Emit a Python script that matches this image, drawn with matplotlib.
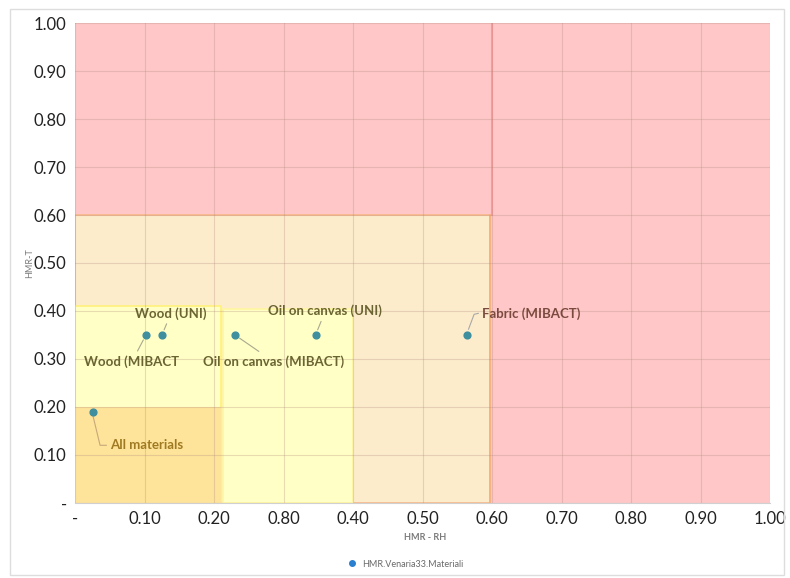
import numpy as np
import matplotlib.pyplot as plt
from matplotlib.patches import Rectangle
from matplotlib.lines import Line2D

# data
labels = ['All materials', 'Wood (MIBACT', 'Wood (UNI)', 'Oil on canvas (MIBACT)',
          'Oil on canvas (UNI)', 'Fabric (MIBACT)']
hmr_rh = [0.026, 0.102, 0.125, 0.230, 0.346, 0.564]
hmr_t = [0.19, 0.35, 0.35, 0.35, 0.35, 0.35]
label_xy = [(0.05, 0.12), (0.082, 0.295), (0.138, 0.395), (0.285, 0.295),
            (0.36, 0.40), (0.585, 0.395)]
label_colors = ['#a07a22', '#6a6432', '#6a6432', '#6a6432', '#6a6432', '#7a4a3e']

xticks = np.arange(0, 1.01, 0.1)
xticklabels = ['-', '0.10', '0.20', '0.80', '0.40', '0.50', '0.60', '0.70', '0.80', '0.90', '1.00']
yticks = np.arange(0, 1.01, 0.1)
yticklabels = ['-', '0.10', '0.20', '0.30', '0.40', '0.50', '0.60', '0.70', '0.80', '0.90', '1.00']

# risk zones: (x0, y0, width, height, face, edge)
zones = [
    (0, 0, 1.0, 1.0, '#ffc7c8', 'none'),
    (0, 0, 0.597, 0.60, '#fdeccb', '#fbb98a'),
    (0, 0, 0.21, 0.41, '#ffffc6', '#fff07a'),
    (0.213, 0, 0.187, 0.405, '#ffffc6', '#fff6a0'),
    (0, 0, 0.21, 0.20, '#fee39a', 'none'),
]

plt.rcParams['font.family'] = ['Lato', 'DejaVu Sans']
fig = plt.figure(figsize=(7.9, 5.78), dpi=100)
ax = fig.add_axes([0.095, 0.13, 0.88, 0.83])

for x0, y0, w, h, fc, ec in zones:
    ax.add_patch(Rectangle((x0, y0), w, h, facecolor=fc, edgecolor=ec, lw=1.2, zorder=1))
ax.plot([0.6, 0.6], [0.6, 1.0], color='#ff9a9a', lw=1.5, zorder=2)
ax.plot([0.597, 0.597], [0, 0.6], color='#fbae7c', lw=1.2, zorder=2)

ax.set_xlim(0, 1)
ax.set_ylim(0, 1)
ax.set_xticks(xticks)
ax.set_xticklabels(xticklabels, fontsize=12, color='#222222')
ax.set_yticks(yticks)
ax.set_yticklabels(yticklabels, fontsize=12, color='#222222')
ax.tick_params(length=0, pad=6)
ax.grid(True, color='#b08a80', alpha=0.3, lw=0.8, zorder=3)
ax.set_axisbelow(False)
for s in ax.spines.values():
    s.set_visible(False)
ax.spines['bottom'].set_visible(True)
ax.spines['bottom'].set_color('#d0d0d0')

ax.scatter(hmr_rh, hmr_t, s=24, color='#3f8f9f', zorder=5)

for i, lab in enumerate(labels):
    px, py = hmr_rh[i], hmr_t[i]
    tx, ty = label_xy[i]
    if i == 0:
        ax.plot([px, px + 0.01, tx - 0.005], [py - 0.01, ty, ty], color='#c8a878', lw=0.8, zorder=4)
        ax.text(tx, ty, lab, ha='left', va='center', fontsize=9.5, fontweight='bold',
                color=label_colors[i], zorder=6)
    elif i == 5:
        ax.plot([px + 0.002, px + 0.01, tx - 0.005], [py + 0.012, ty - 0.002, ty],
                color='#a8a8a8', lw=0.8, zorder=4)
        ax.text(tx, ty, lab, ha='left', va='center', fontsize=9.5, fontweight='bold',
                color=label_colors[i], zorder=6)
    else:
        ax.annotate(lab, (px, py), xytext=(tx, ty), ha='center', va='center',
                    fontsize=9.5, fontweight='bold', color=label_colors[i], zorder=6,
                    arrowprops=dict(arrowstyle='-', color='#a8a890', lw=0.8,
                                    shrinkA=1, shrinkB=4))

fig.text(0.538, 0.066, 'HMR - RH', fontsize=6.5, fontweight='bold', color='#7a7a7a', ha='center')
fig.text(0.032, 0.545, 'HMR-T', fontsize=6.5, color='#7a7a7a', rotation=90, va='center')
handle = Line2D([], [], marker='o', ls='none', color='#2a7fd0', markersize=4)
fig.legend([handle], ['HMR.Venaria33.Materiali'], loc='center', bbox_to_anchor=(0.51, 0.024),
           frameon=False, fontsize=6.5, handletextpad=0.1, labelcolor='#6a6a6a')

fig.patches.append(Rectangle((0.013, 0.006), 0.98, 0.979, transform=fig.transFigure,
                             fill=False, edgecolor='#dddddd', lw=1))

fig.savefig('out.png', dpi=100)
